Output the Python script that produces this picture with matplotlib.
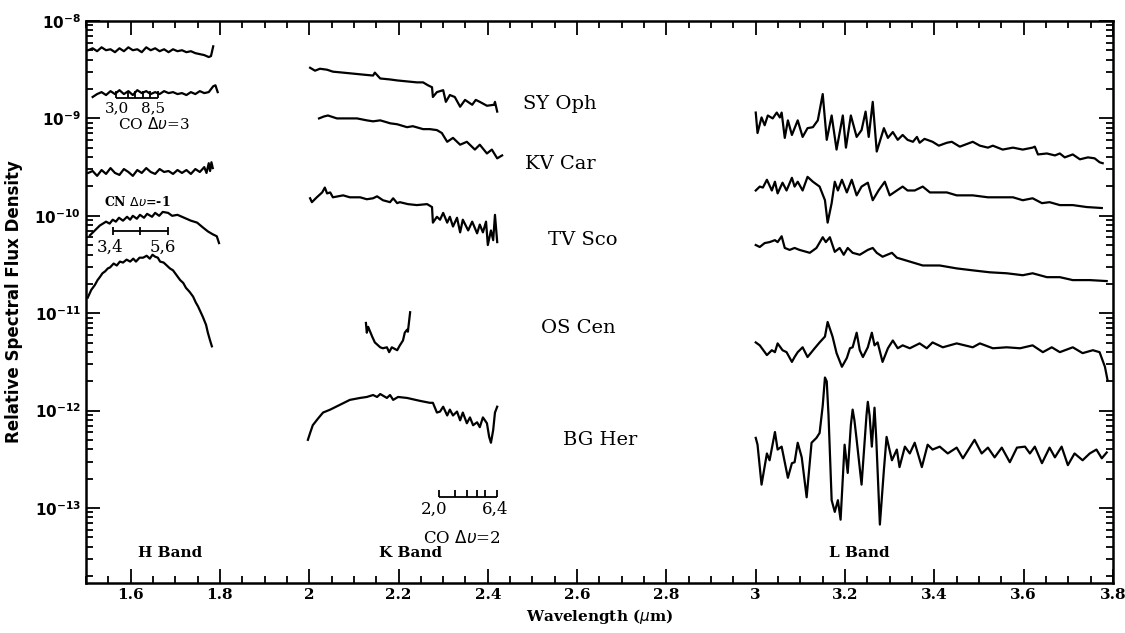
import numpy as np
import matplotlib
matplotlib.use("Agg")
import matplotlib.pyplot as plt
from matplotlib.ticker import MultipleLocator, FixedLocator, NullFormatter

# ---- H band spectra (wavelength in um, log10 flux) ----
h_syoph_wl = [1.505, 1.515, 1.525, 1.535, 1.545, 1.555, 1.565, 1.575, 1.585, 1.595,
              1.605, 1.615, 1.625, 1.635, 1.645, 1.655, 1.665, 1.675, 1.685, 1.695,
              1.705, 1.715, 1.725, 1.735, 1.745, 1.755, 1.765, 1.775, 1.780, 1.785]
h_syoph_lg = [-8.30, -8.28, -8.31, -8.27, -8.30, -8.29, -8.32, -8.28, -8.31, -8.27,
              -8.30, -8.29, -8.32, -8.27, -8.30, -8.28, -8.31, -8.29, -8.32, -8.29,
              -8.31, -8.30, -8.32, -8.31, -8.33, -8.34, -8.35, -8.37, -8.36, -8.26]

h_kvcar_wl = [1.515, 1.525, 1.535, 1.545, 1.555, 1.565, 1.575, 1.585, 1.595, 1.605,
              1.615, 1.625, 1.635, 1.645, 1.655, 1.665, 1.675, 1.685, 1.695, 1.705,
              1.715, 1.725, 1.735, 1.745, 1.755, 1.765, 1.775, 1.785, 1.790, 1.795]
h_kvcar_lg = [-8.78, -8.75, -8.73, -8.76, -8.72, -8.75, -8.71, -8.75, -8.72, -8.76,
              -8.71, -8.74, -8.72, -8.75, -8.73, -8.75, -8.72, -8.74, -8.73, -8.75,
              -8.74, -8.76, -8.73, -8.75, -8.72, -8.74, -8.73, -8.67, -8.66, -8.73]

h_tvsco_wl = [1.505, 1.515, 1.525, 1.535, 1.545, 1.555, 1.565, 1.575, 1.585, 1.595,
              1.605, 1.615, 1.625, 1.635, 1.645, 1.655, 1.665, 1.675, 1.685, 1.695,
              1.705, 1.715, 1.725, 1.735, 1.745, 1.755, 1.765, 1.770, 1.775, 1.778,
              1.781, 1.784]
h_tvsco_lg = [-9.56, -9.54, -9.59, -9.53, -9.57, -9.51, -9.56, -9.58, -9.52, -9.55,
              -9.59, -9.53, -9.56, -9.51, -9.55, -9.57, -9.52, -9.55, -9.54, -9.57,
              -9.53, -9.56, -9.53, -9.57, -9.52, -9.55, -9.50, -9.56, -9.46, -9.54,
              -9.45, -9.51]

h_oscen_wl = [1.509, 1.520, 1.531, 1.545, 1.553, 1.560, 1.567, 1.574, 1.583, 1.592,
              1.599, 1.605, 1.614, 1.621, 1.630, 1.637, 1.648, 1.655, 1.664, 1.672,
              1.684, 1.693, 1.705, 1.715, 1.725, 1.735, 1.749, 1.762, 1.773, 1.784,
              1.793, 1.798]
h_oscen_lg = [-10.20, -10.15, -10.10, -10.06, -10.08, -10.04, -10.06, -10.02, -10.05, -10.01,
              -10.04, -10.00, -10.03, -9.99, -10.02, -9.98, -10.01, -9.97, -10.00, -9.96,
              -9.97, -10.00, -9.99, -10.01, -10.03, -10.05, -10.07, -10.12, -10.16, -10.19,
              -10.21, -10.28]

h_bgher_wl = [1.504, 1.512, 1.520, 1.526, 1.531, 1.537, 1.543, 1.549, 1.554, 1.562,
              1.569, 1.576, 1.583, 1.591, 1.599, 1.606, 1.612, 1.620, 1.628, 1.636,
              1.643, 1.649, 1.655, 1.661, 1.666, 1.674, 1.681, 1.688, 1.695, 1.703,
              1.711, 1.718, 1.724, 1.732, 1.740, 1.746, 1.751, 1.757, 1.762, 1.769,
              1.773, 1.778, 1.782]
h_bgher_lg = [-10.84, -10.76, -10.71, -10.66, -10.63, -10.59, -10.57, -10.54, -10.53, -10.49,
              -10.51, -10.47, -10.48, -10.45, -10.47, -10.44, -10.47, -10.43, -10.43, -10.41,
              -10.44, -10.40, -10.42, -10.43, -10.47, -10.48, -10.51, -10.54, -10.56, -10.61,
              -10.66, -10.69, -10.74, -10.78, -10.83, -10.89, -10.93, -10.99, -11.04, -11.12,
              -11.20, -11.28, -11.34]

# ---- K band spectra ----
k_syoph_wl = [2.002, 2.013, 2.024, 2.040, 2.053, 2.076, 2.098, 2.120, 2.143, 2.147,
              2.159, 2.181, 2.197, 2.219, 2.241, 2.255, 2.266, 2.275, 2.277, 2.286,
              2.300, 2.306, 2.315, 2.326, 2.338, 2.349, 2.365, 2.373, 2.382, 2.398,
              2.414, 2.416, 2.421]
k_syoph_lg = [-8.48, -8.51, -8.49, -8.50, -8.52, -8.53, -8.54, -8.55, -8.56, -8.53,
              -8.59, -8.60, -8.61, -8.62, -8.63, -8.63, -8.66, -8.68, -8.78, -8.73,
              -8.71, -8.83, -8.76, -8.78, -8.88, -8.81, -8.86, -8.81, -8.83, -8.87,
              -8.86, -8.83, -8.93]

k_kvcar_wl = [2.022, 2.033, 2.042, 2.062, 2.085, 2.107, 2.129, 2.143, 2.159, 2.174,
              2.181, 2.197, 2.219, 2.232, 2.255, 2.270, 2.286, 2.297, 2.309, 2.322,
              2.338, 2.353, 2.371, 2.382, 2.398, 2.409, 2.421, 2.432]
k_kvcar_lg = [-9.00, -8.98, -8.97, -9.00, -9.00, -9.00, -9.02, -9.03, -9.02, -9.04,
              -9.05, -9.06, -9.09, -9.08, -9.11, -9.11, -9.12, -9.15, -9.24, -9.20,
              -9.27, -9.24, -9.32, -9.27, -9.36, -9.32, -9.41, -9.38]

k_tvsco_wl = [2.002, 2.006, 2.017, 2.029, 2.035, 2.040, 2.047, 2.053, 2.076, 2.091,
              2.114, 2.129, 2.143, 2.152, 2.165, 2.181, 2.188, 2.197, 2.203, 2.221,
              2.241, 2.264, 2.275, 2.277, 2.286, 2.293, 2.300, 2.309, 2.315, 2.322,
              2.331, 2.338, 2.344, 2.356, 2.365, 2.376, 2.382, 2.389, 2.396, 2.400,
              2.407, 2.412, 2.416, 2.421]
k_tvsco_lg = [-9.82, -9.86, -9.81, -9.76, -9.71, -9.77, -9.76, -9.81, -9.79, -9.81,
              -9.81, -9.83, -9.82, -9.80, -9.84, -9.86, -9.82, -9.87, -9.86, -9.88,
              -9.89, -9.88, -9.91, -10.07, -10.01, -10.04, -9.97, -10.07, -10.01, -10.11,
              -10.02, -10.17, -10.04, -10.15, -10.06, -10.18, -10.09, -10.17, -10.06, -10.30,
              -10.15, -10.25, -9.99, -10.27]

k_oscen_wl = [2.127, 2.129, 2.132, 2.141, 2.147, 2.159, 2.165, 2.174, 2.179, 2.185,
              2.197, 2.203, 2.210, 2.214, 2.219, 2.221, 2.226]
k_oscen_lg = [-11.10, -11.20, -11.14, -11.24, -11.30, -11.35, -11.36, -11.35, -11.40, -11.35,
              -11.38, -11.33, -11.28, -11.20, -11.17, -11.19, -10.99]

k_bgher_wl = [1.997, 2.002, 2.008, 2.020, 2.031, 2.047, 2.069, 2.091, 2.114, 2.129,
              2.143, 2.152, 2.159, 2.174, 2.181, 2.188, 2.199, 2.219, 2.248, 2.270,
              2.277, 2.286, 2.293, 2.300, 2.309, 2.315, 2.322, 2.331, 2.338, 2.344,
              2.353, 2.360, 2.367, 2.376, 2.382, 2.389, 2.398, 2.403, 2.407, 2.412,
              2.416, 2.421]
k_bgher_lg = [-12.30, -12.23, -12.15, -12.08, -12.02, -11.99, -11.94, -11.89, -11.87, -11.86,
              -11.84, -11.86, -11.83, -11.87, -11.84, -11.89, -11.86, -11.87, -11.90, -11.92,
              -11.92, -12.02, -12.01, -11.96, -12.05, -11.99, -12.05, -12.01, -12.10, -12.02,
              -12.13, -12.07, -12.15, -12.12, -12.17, -12.07, -12.13, -12.27, -12.33, -12.20,
              -12.02, -11.96]

# ---- L band spectra ----
l_syoph_wl = [3.000, 3.004, 3.013, 3.020, 3.027, 3.038, 3.047, 3.054, 3.058, 3.065,
              3.072, 3.081, 3.094, 3.105, 3.116, 3.128, 3.139, 3.150, 3.159, 3.170,
              3.181, 3.195, 3.202, 3.213, 3.226, 3.237, 3.246, 3.253, 3.262, 3.271,
              3.287, 3.296, 3.307, 3.318, 3.329, 3.340, 3.352, 3.361, 3.367, 3.378,
              3.396, 3.410, 3.428, 3.439, 3.457, 3.486, 3.502, 3.520, 3.531, 3.553,
              3.576, 3.598, 3.620, 3.625, 3.632, 3.652, 3.670, 3.681, 3.692, 3.710,
              3.726, 3.744, 3.759, 3.770, 3.777]
l_syoph_lg = [-8.94, -9.15, -8.99, -9.07, -8.97, -9.00, -8.94, -8.99, -8.94, -9.20,
              -9.02, -9.17, -9.02, -9.19, -9.10, -9.09, -9.02, -8.75, -9.22, -8.97,
              -9.32, -8.97, -9.30, -8.97, -9.19, -9.12, -8.93, -9.19, -8.83, -9.34,
              -9.10, -9.20, -9.14, -9.22, -9.17, -9.22, -9.24, -9.19, -9.25, -9.21,
              -9.24, -9.28, -9.25, -9.24, -9.29, -9.24, -9.28, -9.30, -9.28, -9.32,
              -9.30, -9.32, -9.30, -9.29, -9.37, -9.36, -9.38, -9.36, -9.40, -9.37,
              -9.42, -9.40, -9.41, -9.45, -9.46]

l_kvcar_wl = [3.000, 3.009, 3.016, 3.025, 3.036, 3.043, 3.049, 3.060, 3.069, 3.081,
              3.087, 3.094, 3.105, 3.116, 3.128, 3.143, 3.155, 3.161, 3.170, 3.177,
              3.184, 3.193, 3.204, 3.215, 3.226, 3.237, 3.251, 3.262, 3.275, 3.289,
              3.300, 3.316, 3.329, 3.340, 3.356, 3.374, 3.390, 3.428, 3.450, 3.486,
              3.520, 3.540, 3.576, 3.598, 3.620, 3.641, 3.658, 3.681, 3.710, 3.741,
              3.775]
l_kvcar_lg = [-9.74, -9.70, -9.71, -9.63, -9.74, -9.65, -9.77, -9.66, -9.74, -9.61,
              -9.70, -9.65, -9.74, -9.60, -9.65, -9.70, -9.84, -10.07, -9.87, -9.65,
              -9.74, -9.63, -9.76, -9.63, -9.79, -9.70, -9.66, -9.84, -9.74, -9.65,
              -9.79, -9.74, -9.70, -9.74, -9.74, -9.70, -9.76, -9.76, -9.79, -9.79,
              -9.81, -9.81, -9.81, -9.84, -9.82, -9.87, -9.86, -9.89, -9.89, -9.91,
              -9.92]

l_tvsco_wl = [3.000, 3.009, 3.020, 3.031, 3.043, 3.049, 3.058, 3.065, 3.076, 3.087,
              3.098, 3.121, 3.136, 3.150, 3.157, 3.166, 3.177, 3.188, 3.197, 3.206,
              3.217, 3.233, 3.251, 3.262, 3.271, 3.284, 3.305, 3.316, 3.345, 3.374,
              3.412, 3.450, 3.486, 3.524, 3.562, 3.598, 3.620, 3.652, 3.681, 3.710,
              3.748, 3.786]
l_tvsco_lg = [-10.30, -10.32, -10.28, -10.27, -10.25, -10.27, -10.21, -10.33, -10.35, -10.33,
              -10.35, -10.38, -10.33, -10.22, -10.27, -10.22, -10.37, -10.33, -10.40, -10.33,
              -10.38, -10.40, -10.35, -10.33, -10.38, -10.42, -10.38, -10.43, -10.47, -10.51,
              -10.51, -10.54, -10.56, -10.58, -10.59, -10.61, -10.59, -10.63, -10.63, -10.66,
              -10.66, -10.67]

l_oscen_wl = [3.000, 3.009, 3.025, 3.036, 3.043, 3.049, 3.060, 3.069, 3.081, 3.087,
              3.094, 3.105, 3.116, 3.132, 3.143, 3.155, 3.161, 3.172, 3.181, 3.193,
              3.204, 3.211, 3.217, 3.226, 3.233, 3.240, 3.251, 3.260, 3.266, 3.273,
              3.284, 3.296, 3.307, 3.318, 3.329, 3.345, 3.367, 3.383, 3.396, 3.419,
              3.450, 3.486, 3.502, 3.531, 3.562, 3.592, 3.620, 3.643, 3.663, 3.681,
              3.710, 3.732, 3.755, 3.770, 3.782, 3.788]
l_oscen_lg = [-11.30, -11.33, -11.43, -11.38, -11.40, -11.31, -11.38, -11.40, -11.50, -11.45,
              -11.40, -11.35, -11.45, -11.36, -11.30, -11.24, -11.09, -11.24, -11.41, -11.55,
              -11.46, -11.36, -11.35, -11.20, -11.38, -11.45, -11.35, -11.20, -11.33, -11.30,
              -11.50, -11.36, -11.28, -11.36, -11.33, -11.36, -11.31, -11.36, -11.30, -11.35,
              -11.31, -11.35, -11.31, -11.36, -11.35, -11.36, -11.33, -11.40, -11.35, -11.40,
              -11.35, -11.41, -11.38, -11.40, -11.55, -11.69]

l_bgher_wl = [3.000, 3.004, 3.013, 3.025, 3.031, 3.043, 3.049, 3.058, 3.065, 3.072,
              3.081, 3.087, 3.094, 3.103, 3.114, 3.125, 3.136, 3.143, 3.150, 3.155,
              3.159, 3.163, 3.170, 3.177, 3.184, 3.190, 3.199, 3.206, 3.213, 3.217,
              3.221, 3.226, 3.237, 3.248, 3.251, 3.255, 3.260, 3.266, 3.270, 3.278,
              3.287, 3.293, 3.305, 3.316, 3.322, 3.334, 3.345, 3.356, 3.372, 3.385,
              3.396, 3.412, 3.430, 3.450, 3.464, 3.490, 3.506, 3.520, 3.535, 3.551,
              3.569, 3.585, 3.603, 3.614, 3.625, 3.641, 3.658, 3.670, 3.685, 3.699,
              3.714, 3.732, 3.748, 3.763, 3.775, 3.786]
l_bgher_lg = [-12.28, -12.35, -12.76, -12.44, -12.51, -12.22, -12.40, -12.37, -12.53, -12.69,
              -12.54, -12.53, -12.33, -12.48, -12.89, -12.33, -12.28, -12.23, -11.95, -11.66,
              -11.70, -12.05, -12.92, -13.04, -12.92, -13.12, -12.35, -12.64, -12.15, -11.99,
              -12.10, -12.30, -12.76, -12.05, -11.91, -12.05, -12.37, -11.97, -12.30, -13.17,
              -12.61, -12.27, -12.51, -12.40, -12.58, -12.37, -12.44, -12.33, -12.58, -12.35,
              -12.40, -12.37, -12.44, -12.38, -12.49, -12.30, -12.44, -12.38, -12.48, -12.38,
              -12.53, -12.38, -12.37, -12.44, -12.37, -12.54, -12.38, -12.48, -12.37, -12.56,
              -12.44, -12.51, -12.44, -12.40, -12.49, -12.43]

spectra = [
    (h_syoph_wl, h_syoph_lg), (h_kvcar_wl, h_kvcar_lg), (h_tvsco_wl, h_tvsco_lg),
    (h_oscen_wl, h_oscen_lg), (h_bgher_wl, h_bgher_lg),
    (k_syoph_wl, k_syoph_lg), (k_kvcar_wl, k_kvcar_lg), (k_tvsco_wl, k_tvsco_lg),
    (k_oscen_wl, k_oscen_lg), (k_bgher_wl, k_bgher_lg),
    (l_syoph_wl, l_syoph_lg), (l_kvcar_wl, l_kvcar_lg), (l_tvsco_wl, l_tvsco_lg),
    (l_oscen_wl, l_oscen_lg), (l_bgher_wl, l_bgher_lg),
]

# star names and where they are written
star_names = ["SY Oph", "KV Car", "TV Sco", "OS Cen", "BG Her"]
star_x = [2.562, 2.562, 2.613, 2.602, 2.651]
star_lg = [-8.85, -9.47, -10.25, -11.15, -12.30]

band_names = ["H Band", "K Band", "L Band"]
band_x = [1.688, 2.228, 3.233]

# molecular band heads (um)
co3_heads = [1.567, 1.594, 1.610, 1.628, 1.643, 1.661]
cn_heads = [1.560, 1.621, 1.684]
co2_heads = [2.291, 2.326, 2.353, 2.376, 2.394, 2.421]

# y axis decades
y_decades = [1e-13, 1e-12, 1e-11, 1e-10, 1e-9, 1e-8]

serif = "DejaVu Serif"

fig = plt.figure(figsize=(11.25, 6.33), dpi=100)
ax = fig.add_axes([0.0764, 0.079, 0.9129, 0.8878])

for wl, lg in spectra:
    ax.plot(wl, 10 ** np.array(lg), color="black", lw=1.6)

ax.set_yscale("log")
ax.set_xlim(1.5, 3.8)
ax.set_ylim(10 ** -13.77, 1e-8)

# band head markers
def head_bar(heads, level, up, down):
    ax.hlines(level, heads[0], heads[-1], color="black", lw=1.3)
    ax.vlines(heads, level / down, level * up, color="black", lw=1.3)

head_bar(co3_heads, 10 ** -8.79, 1.18, 1.0)
head_bar(cn_heads, 10 ** -10.156, 1.10, 1.10)
head_bar(co2_heads, 10 ** -12.887, 1.18, 1.0)

ax.text(1.569, 10 ** -8.90, "3,0", ha="center", va="center", fontsize=11, family=serif)
ax.text(1.650, 10 ** -8.90, "8,5", ha="center", va="center", fontsize=11, family=serif)
ax.text(1.652, 10 ** -9.06, "CO $\\Delta\\upsilon$=3", ha="center", va="center", fontsize=11, family=serif)
ax.text(1.616, 10 ** -9.86, "CN $\\Delta\\upsilon$=-1", ha="center", va="center", fontsize=9,
        family=serif, fontweight="bold")
ax.text(1.554, 10 ** -10.32, "3,4", ha="center", va="center", fontsize=12, family=serif)
ax.text(1.672, 10 ** -10.32, "5,6", ha="center", va="center", fontsize=12, family=serif)
ax.text(2.279, 10 ** -13.01, "2,0", ha="center", va="center", fontsize=12, family=serif)
ax.text(2.416, 10 ** -13.01, "6,4", ha="center", va="center", fontsize=12, family=serif)
ax.text(2.342, 10 ** -13.31, "CO $\\Delta\\upsilon$=2", ha="center", va="center", fontsize=12, family=serif)

for name, x, lg in zip(star_names, star_x, star_lg):
    ax.text(x, 10 ** lg, name, ha="center", va="center", fontsize=14, family=serif)
for name, x in zip(band_names, band_x):
    ax.text(x, 10 ** -13.46, name, ha="center", va="center", fontsize=11, family=serif,
            fontweight="bold")

ax.xaxis.set_major_locator(MultipleLocator(0.2))
ax.xaxis.set_minor_locator(MultipleLocator(0.05))
ax.yaxis.set_major_locator(FixedLocator(y_decades))
ax.yaxis.set_minor_locator(FixedLocator([m * d for d in [1e-14] + y_decades[:-1] for m in range(2, 10)]))
ax.yaxis.set_minor_formatter(NullFormatter())
ax.tick_params(which="both", direction="in", top=True, right=True, width=1.3)
ax.tick_params(which="major", length=10, labelsize=11)
ax.tick_params(which="minor", length=5)
ax.xaxis.set_major_formatter(matplotlib.ticker.FuncFormatter(lambda v, p: f"{v:g}"))
ax.yaxis.set_major_formatter(matplotlib.ticker.FuncFormatter(
    lambda v, p: "$\\mathbf{10^{%d}}$" % round(np.log10(v))))
for lab in ax.get_xticklabels() + ax.get_yticklabels():
    lab.set_family(serif)
    lab.set_fontweight("bold")
for s in ax.spines.values():
    s.set_linewidth(1.8)

ax.set_xlabel("Wavelength ($\\mu$m)", fontsize=11, family=serif, fontweight="bold", labelpad=4)
ax.set_ylabel("Relative Spectral Flux Density", fontsize=12, fontweight="bold", labelpad=8)

fig.savefig("out.png", dpi=100)
